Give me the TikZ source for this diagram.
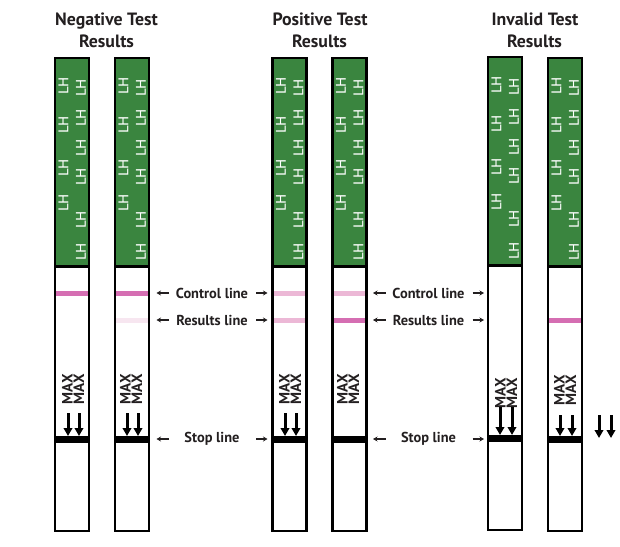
\documentclass[tikz,border=0pt]{standalone}
\usepackage{fontspec}
\setmainfont{PT Sans}
\newfontfamily\lhfont{DejaVu Sans}
\usetikzlibrary{arrows.meta}
\definecolor{lhgreen}{RGB}{58,133,63}
\definecolor{pinkS}{RGB}{213,110,178}
\definecolor{pinkL}{RGB}{236,184,214}
\definecolor{pinkF}{RGB}{247,230,240}
\definecolor{ink}{RGB}{35,31,32}
\begin{document}
\begin{tikzpicture}[x=1pt,y=-1pt,
  stripbox/.style={draw=black,line width=2.2pt,fill=white,minimum width=34pt,minimum height=473pt,inner sep=0pt,outer sep=0pt},
  border/.style={draw=black,line width=2.2pt},
  lh/.style={text=white,rotate=90,font=\lhfont\fontsize{13.5}{13.5}\selectfont,inner sep=0pt},
  maxt/.style={text=ink,rotate=90,font=\bfseries\fontsize{15}{11.5}\selectfont,align=center,inner sep=0pt},
  lbl/.style={text=ink,font=\bfseries\fontsize{14.4}{17}\selectfont,inner sep=0pt},
  title/.style={text=ink,font=\bfseries\fontsize{17.8}{22}\selectfont,inner sep=0pt,anchor=base},
  stopbar/.style={fill=black,minimum width=34pt,minimum height=7pt,inner sep=0pt,outer sep=0pt},
  downarr/.style={line width=3pt,-{Triangle[length=8pt,width=8.5pt]}},
  lblarr/.style={draw=ink,line width=1.2pt,-{Stealth[length=4.5pt,width=5pt]}},
  pline/.style={line width=5pt}
]
\useasboundingbox (0,0) rectangle (620,546);

% titles
\node[title] (t1a) at (106.5,25) {Negative Test};
\node[title] (t1b) at (106.5,47) {Results};
\node[title] (t2a) at (320,25) {Positive Test};
\node[title] (t2b) at (319.5,47) {Results};
\node[title] (t3a) at (535,25) {Invalid Test};
\node[title] (t3b) at (534.5,47) {Results};

% strips
\foreach \n/\x/\d in {1/72/0,2/132/0,3/289.5/0,4/349.5/0,5/505/-1,6/565/0}{
  \node[stripbox] (s\n) at (\x,{294.5+\d}) {};
  \fill[lhgreen] ({\x-17},{58+\d}) rectangle ({\x+17},{265+\d});
  \fill[black] ({\x-17},{264.5+\d}) rectangle ({\x+17},{267.5+\d});
  \node[stopbar] (st\n) at (\x,{439.5+\d}) {};
  \foreach \k/\dx/\yy in {1/-8.5/86,2/-8.5/125,3/-8.5/168,4/-8.5/203,5/9/88,6/9/118,7/9/148,8/9/177,9/9/220,10/9/252}{
    \node[lh] (lh\n-\k) at ({\x+\dx},{\yy+\d}) {LH};
  }
}

% pink lines
\draw[pline,pinkS] (s1.west |- 0,293) -- (s1.east |- 0,293);
\draw[pline,pinkS] (s2.west |- 0,293) -- (s2.east |- 0,293);
\draw[pline,pinkF] (s2.west |- 0,320) -- (s2.east |- 0,320);
\draw[pline,pinkL] (s3.west |- 0,293) -- (s3.east |- 0,293);
\draw[pline,pinkL] (s3.west |- 0,320) -- (s3.east |- 0,320);
\draw[pline,pinkL] (s4.west |- 0,293) -- (s4.east |- 0,293);
\draw[pline,pinkS] (s4.west |- 0,320) -- (s4.east |- 0,320);
\draw[pline,pinkS] (s6.west |- 0,320) -- (s6.east |- 0,320);

% borders on top
\foreach \n in {1,...,6}{
  \draw[border] (s\n.north west) rectangle (s\n.south east);
}

% MAX texts
\node[maxt] (mx1) at (73,389) {MAX\\MAX};
\node[maxt] (mx2) at (131,389) {MAX\\MAX};
\node[maxt] (mx3) at (290,389) {MAX\\MAX};
\node[maxt] (mx4) at (348,389) {MAX\\MAX};
\node[maxt] (mx5) at (506,393) {MAX\\MAX};
\node[maxt] (mx6) at (565,390) {MAX\\MAX};

% down arrows
\coordinate (a1) at (68,413);  \coordinate (a2) at (79,413);
\coordinate (b1) at (127,413); \coordinate (b2) at (138,413);
\coordinate (c1) at (285,413); \coordinate (c2) at (296,413);
\coordinate (e1) at (500,407); \coordinate (e2) at (512,407);
\coordinate (f1) at (560,415); \coordinate (f2) at (572,415);
\coordinate (o1) at (599,415); \coordinate (o2) at (611,415);
\coordinate (o1e) at (599,438); \coordinate (o2e) at (611,438);
\draw[downarr] (a1) -- (a1 |- st1.north);
\draw[downarr] (a2) -- (a2 |- st1.north);
\draw[downarr] (b1) -- (b1 |- st2.north);
\draw[downarr] (b2) -- (b2 |- st2.north);
\draw[downarr] (c1) -- (c1 |- st3.north);
\draw[downarr] (c2) -- (c2 |- st3.north);
\draw[downarr] (e1) -- (e1 |- st5.north);
\draw[downarr] (e2) -- (e2 |- st5.north);
\draw[downarr] (f1) -- (f1 |- st6.north);
\draw[downarr] (f2) -- (f2 |- st6.north);
\draw[downarr] (o1) -- (o1e);
\draw[downarr] (o2) -- (o2e);

% labels
\foreach \g/\cx in {1/212,2/428.5}{
  \node[lbl] (ctl\g) at (\cx,293) {Control line};
  \node[lbl] (res\g) at (\cx,320) {Results line};
  \node[lbl] (stp\g) at (\cx,439) {Stop line};
  \foreach \m in {ctl,res,stp}{
    \draw[lblarr] ([xshift=-43pt]\m\g.center) -- ([xshift=-55.5pt]\m\g.center);
    \draw[lblarr] ([xshift=44pt]\m\g.center) -- ([xshift=55.5pt]\m\g.center);
  }
}
\end{tikzpicture}
\end{document}
